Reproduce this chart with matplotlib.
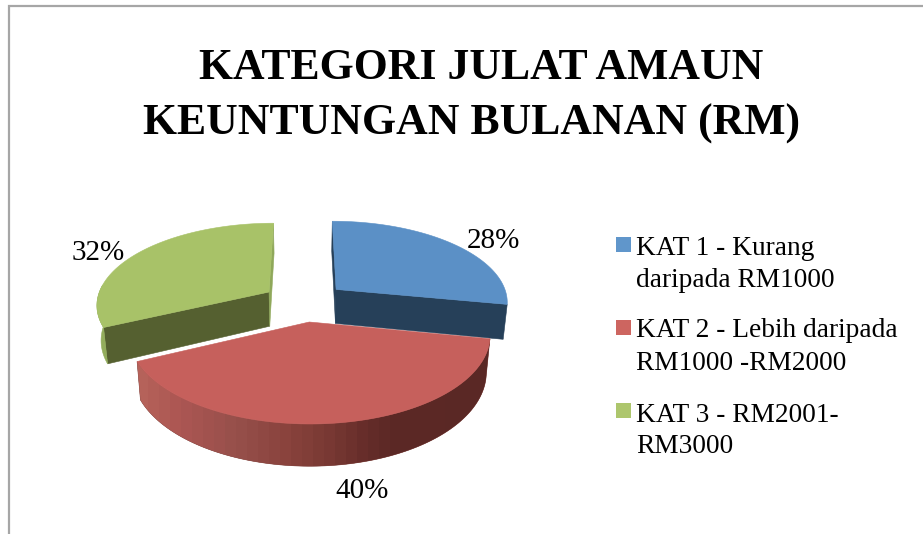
import numpy as np
import matplotlib
matplotlib.use("Agg")
import matplotlib.pyplot as plt
from matplotlib.patches import Polygon, Rectangle
from matplotlib.colors import ListedColormap, to_rgb

# --- data ---
title_lines = ["KATEGORI JULAT AMAUN", "KEUNTUNGAN BULANAN (RM)"]
values = [28, 40, 32]
pct_labels = ["28%", "40%", "32%"]
legend_lines = [["KAT 1 - Kurang", "daripada RM1000"],
                ["KAT 2 - Lebih daripada", "RM1000 -RM2000"],
                ["KAT 3 - RM2001-", "RM3000"]]

# --- style / layout ---
W, H = 923, 534
FONT = "Liberation Serif"
TOP = ["#5B90C6", "#C6605C", "#A8C268"]
CUT = ["#264059", "#5E2A27", "#556030"]
LEG = ["#6096CB", "#CD6560", "#ADC66D"]
EXPLODE = [(0.184, 0.396), (0.024, 0.0), (-0.212, 0.363)]
X0, Y0, FX, KY, C, DEPTH, SHRINK = 305, 322, 178.7, 87, 0.147, 36, 0.98
RED_RAMP = [(137, "#B5625A"), (175, "#AC5653"), (230, "#97504B"), (280, "#8A433D"),
            (320, "#7A3A34"), (360, "#662D2A"), (385, "#5C2926"), (490, "#5A2825")]

fig = plt.figure(figsize=(W / 100, H / 100), dpi=100)
ax = fig.add_axes([0, 0, 1, 1])
ax.set_xlim(0, W)
ax.set_ylim(H, 0)
ax.axis("off")


def project(theta, r, offset, low=False):
    """Perspective projection of a point in a slice; theta clockwise from north."""
    wx = offset[0] + r * np.sin(theta)
    wy = offset[1] + r * np.cos(theta)
    den = 1 + C * wy
    s = SHRINK if low else 1.0
    x = X0 + s * FX * wx / den
    y = Y0 - KY * wy / den + (DEPTH / den if low else 0)
    return x, y


def poly(pts, color, z):
    p = Polygon(pts, closed=True, facecolor=color, edgecolor=color, lw=0.4, zorder=z)
    ax.add_patch(p)
    return p


fracs = np.cumsum([0] + values) / sum(values) * 2 * np.pi
Z = {2: 1, 0: 2, 1: 3}  # paint order: green, blue, red


def arc(a, b, off, low=False, n=120):
    th = np.linspace(a, b, n)
    return [project(t, 1, off, low) for t in th]


for i in [2, 0, 1]:
    a, b = fracs[i], fracs[i + 1]
    off = EXPLODE[i]
    z = Z[i] * 10
    v_hi, v_lo = project(0, 0, off), project(0, 0, off, True)
    # the two radial cut faces
    if i != 1:
        for t, col in ((a, CUT[i]), (b, "#8FA85A" if i == 2 else CUT[i])):
            poly([v_hi, project(t, 1, off), project(t, 1, off, True), v_lo], col, z)
    # outer wall
    if i == 1:
        wall = poly(arc(a, b, off) + arc(a, b, off, True)[::-1], "#7A3A34", z + 1)
        # banded horizontal shading, clipped to the wall
        xs = np.arange(137, 491, 11)
        cols = np.array([[np.interp(x, [d for d, _ in RED_RAMP],
                                    [to_rgb(c)[j] for _, c in RED_RAMP]) for j in range(3)] for x in xs])
        im = ax.imshow(np.arange(len(xs))[None, :], cmap=ListedColormap(cols), aspect="auto",
                       extent=(137, 137 + 11 * len(xs), H, 0), interpolation="nearest", zorder=z + 1.5)
        im.set_clip_path(wall)
        ax.set_xlim(0, W)
        ax.set_ylim(H, 0)
    elif i == 2:
        end = np.radians(275)
        poly(arc(a, end, off) + arc(a, end, off, True)[::-1], "#93AD5C", z + 1)
    # top face
    poly([v_hi] + arc(a, b, off), TOP[i], z + 2)

# frame of the original picture
ax.plot([8.5, 8.5, W], [H, 6, 6], color="#A6A6A6", lw=1.6, solid_joinstyle="miter", zorder=1)

# title
ax.text(481.5, 79, title_lines[0], family=FONT, weight="bold", fontsize=31.5, ha="center", va="baseline", color="black")
ax.text(471.5, 135, title_lines[1], family=FONT, weight="bold", fontsize=31.5, ha="center", va="baseline", color="black")

# slice labels
for s, (x, y) in zip(pct_labels, [(493.5, 248), (362, 498), (98, 260)]):
    ax.text(x, y, s, family=FONT, fontsize=21, ha="center", va="baseline", color="black")

# legend
for col, lines, sy, bl in zip(LEG, legend_lines, [237, 320, 403], [(255, 287), (337, 370), (422, 453)]):
    ax.add_patch(Rectangle((616, sy), 15, 15, facecolor=col, edgecolor="none"))
    for line, y in zip(lines, bl):
        ax.text(636, y, line, family=FONT, fontsize=19.7, ha="left", va="baseline", color="black")

fig.savefig("out.png", dpi=100)
